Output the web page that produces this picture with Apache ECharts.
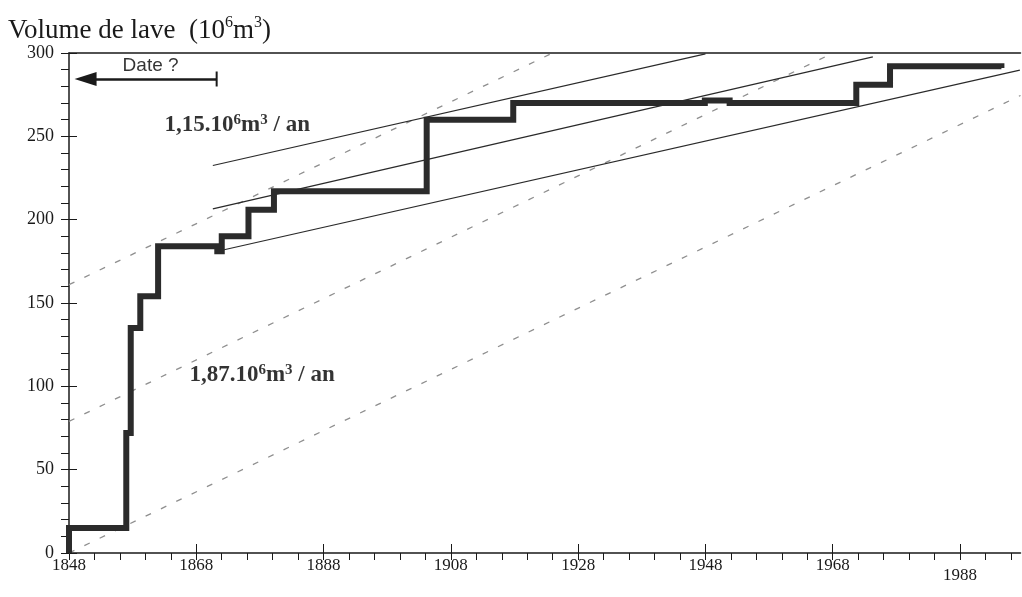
<!DOCTYPE html>
<html><head><meta charset="utf-8">
<script src="https://cdn.jsdelivr.net/npm/echarts@6/dist/echarts.min.js"></script>
<style>html,body{margin:0;padding:0;background:#fff}#c{width:1022px;height:597px}</style>
</head><body><div id="c"></div>
<script>
// ---- data ----
const stepYears   = [1848, 1848, 1857, 1857.7, 1859.2, 1862, 1871.3, 1872, 1876.2, 1880.2, 1904.2, 1917.8, 1947.9, 1951.8, 1971.7, 1977, 1994.5];
const stepVolumes = [0,    15,   72,   135,    154,    184,  181,    190,  206,    217,    260,    270,    271.5,  270,    281,    292,  291];
const xLabels = [1848, 1868, 1888, 1908, 1928, 1948, 1968, 1988];
const yLabels = [0, 50, 100, 150, 200, 250, 300];
// trend lines
const solidTrend1 = [[1870.6, 232.5], [1948, 299.5]];
const solidTrend2 = [[1870.6, 206.5], [1974.3, 297.7]];
const solidTrend3 = [[1872.2, 181.8], [1997.4, 289.7]];
const dashTrend1 = [[1848, 161], [1924, 300]];
const dashTrend2 = [[1848, 79], [1967.5, 299]];
const dashTrend3 = [[1848, 0], [1997.5, 274.5]];
const rateHigh = '1,15.10{s|6}m{s|3} / an';
const rateLow  = '1,87.10{s|6}m{s|3} / an';
const titleText = 'Volume de lave  (10{s|6}m{s|3})';
const dateText = 'Date ?';

// ---- ticks ----
const xMinor = []; for (let v = 1848; v <= 1996; v += 4) xMinor.push(v);
const yMinor = []; for (let v = 0; v <= 300; v += 10) yMinor.push(v);

const serif = '"Liberation Serif", "Times New Roman", serif';
const ink = '#1a1a1a';

const chart = echarts.init(document.getElementById('c'), null, {renderer: 'canvas'});

function trend(d, dashed) {
  return {
    type: 'line', data: d, symbol: 'none', silent: true, animation: false, z: 1,
    lineStyle: dashed ? {color: '#8f8f8f', width: 1.3, type: [6, 11]} : {color: '#2a2a2a', width: 1.2}
  };
}

const rateRich = {
  fontFamily: serif, fontWeight: 'bold', fontSize: 23, color: '#000', lineHeight: 26,
  rich: { s: {fontFamily: serif, fontWeight: 'bold', fontSize: 15, color: '#000', verticalAlign: 'top', lineHeight: 26} }
};

const option = {
  backgroundColor: '#fff',
  animation: false,
  title: {
    text: titleText, left: 3, top: 10,
    textStyle: {fontFamily: serif, fontWeight: 'normal', fontSize: 27, color: ink, lineHeight: 31,
      rich: { s: {fontFamily: serif, fontSize: 16, verticalAlign: 'top', lineHeight: 31, color: ink} }}
  },
  grid: {left: 69, right: 1.5, top: 53, bottom: 44, containLabel: false},
  xAxis: [
    { type: 'value', min: 1848, max: 1997.5, position: 'bottom',
      axisLine: {show: true, onZero: false, lineStyle: {color: ink, width: 1.5}},
      axisTick: {show: true, customValues: xMinor, length: 7, lineStyle: {color: ink, width: 1}},
      axisLabel: {customValues: xLabels, margin: 4, fontFamily: serif, fontSize: 17, color: ink,
        formatter: v => v === 1988 ? '{low|1988}' : String(v),
        rich: {low: {fontFamily: serif, fontSize: 17, color: ink, padding: [10, 0, 0, 0]}}},
      splitLine: {show: false} },
    { type: 'value', min: 1848, max: 1997.5, position: 'bottom',
      axisLine: {show: false, onZero: false},
      axisTick: {show: true, inside: true, customValues: xLabels, length: 9, lineStyle: {color: ink, width: 1}},
      axisLabel: {show: false}, splitLine: {show: false} },
    { type: 'value', min: 1848, max: 1997.5, position: 'top',
      axisLine: {show: true, onZero: false, lineStyle: {color: ink, width: 1.5}},
      axisTick: {show: false}, axisLabel: {show: false}, splitLine: {show: false} }
  ],
  yAxis: [
    { type: 'value', min: 0, max: 300, position: 'left',
      axisLine: {show: true, onZero: false, lineStyle: {color: ink, width: 1.5}},
      axisTick: {show: true, customValues: yMinor, length: 8, lineStyle: {color: ink, width: 1}},
      axisLabel: {customValues: yLabels, margin: 15, fontFamily: serif, fontSize: 18, color: ink},
      splitLine: {show: false} },
    { type: 'value', min: 0, max: 300, position: 'left',
      axisLine: {show: false, onZero: false},
      axisTick: {show: true, inside: true, customValues: yLabels, length: 8, lineStyle: {color: ink, width: 1}},
      axisLabel: {show: false}, splitLine: {show: false} }
  ],
  series: [
    trend(dashTrend1, true), trend(dashTrend2, true), trend(dashTrend3, true),
    Object.assign(trend(solidTrend1, false), {
      markLine: {
        silent: true, animation: false, symbol: ['none', 'none'],
        lineStyle: {color: ink, width: 2.5, type: 'solid'}, label: {show: false},
        data: [[
          {coord: [1871.2, 284.4], symbol: 'rect', symbolSize: [15, 2]},
          {coord: [1850.6, 284.4], symbol: 'triangle', symbolSize: [14, 22]}
        ]]
      }
    }),
    trend(solidTrend2, false), trend(solidTrend3, false),
    {
      type: 'line', step: 'end', symbol: 'none', silent: true, animation: false, z: 3,
      data: stepYears.map((y, i) => [y, stepVolumes[i]]),
      lineStyle: {color: '#2b2b2b', width: 6, cap: 'butt', join: 'miter'}
    },
    {
      type: 'scatter', symbolSize: 1, silent: true, animation: false, z: 4,
      itemStyle: {color: 'rgba(0,0,0,0)'},
      label: {show: true, position: [0, 0], align: 'left', verticalAlign: 'bottom'},
      data: [
        {value: [1863.1, 248.4], label: Object.assign({formatter: rateHigh}, rateRich)},
        {value: [1867, 98.4], label: Object.assign({formatter: rateLow}, rateRich)},
        {value: [1860.9, 286.6], label: {formatter: dateText, align: 'center', verticalAlign: 'bottom',
          fontFamily: '"Liberation Sans", Arial, sans-serif', fontSize: 19, color: '#000'}}
      ]
    }
  ]
};
chart.setOption(option);
</script>
</body></html>
